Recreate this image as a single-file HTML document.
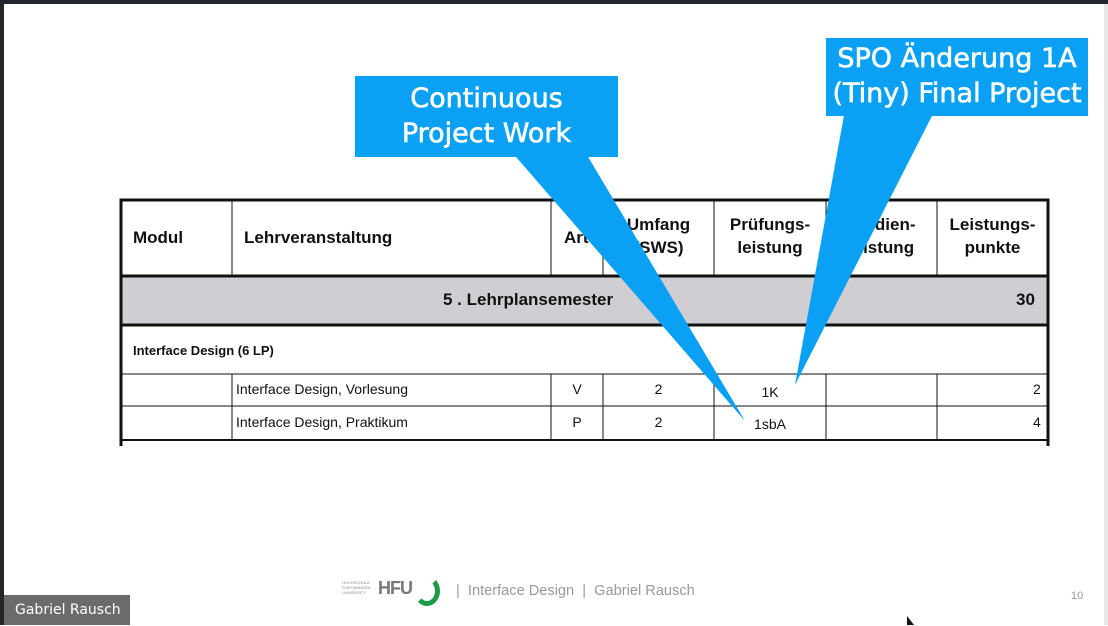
<!DOCTYPE html>
<html><head><meta charset="utf-8"><style>
body{margin:0;width:1108px;height:625px;overflow:hidden;background:#fff;position:relative;font-family:"Liberation Sans",sans-serif}
.t{position:absolute;font-size:14px;color:#111;white-space:nowrap}
.b{font-weight:bold;font-size:17px}
.c{text-align:center}
.co{position:absolute;background:#0aa0f3;color:#fff;font-family:'DejaVu Sans',sans-serif;font-size:27px;line-height:35px;text-align:center;box-sizing:border-box;white-space:nowrap;-webkit-text-stroke:0.6px #fff}
</style></head><body>
<div style="position:absolute;left:0;top:0;width:1108px;height:4px;background:#23272b"></div>
<div style="position:absolute;left:0;top:0;width:4px;height:625px;background:#23272b"></div>
<div style="position:absolute;left:1104px;top:4px;width:4px;height:621px;background:#e8e8e8"></div>

<svg style="position:absolute;left:0;top:0" width="1108" height="625">
<rect x="120" y="276" width="929" height="50" fill="#d0ced3"/>
<g stroke="#111" fill="none">
<path d="M121,446 V200 H1048 V446" stroke-width="3"/>
<line x1="120" y1="276" x2="1049" y2="276" stroke-width="3"/>
<line x1="120" y1="325" x2="1049" y2="325" stroke-width="3"/>
<line x1="120" y1="374" x2="1049" y2="374" stroke-width="1"/>
<line x1="120" y1="406" x2="1049" y2="406" stroke-width="1"/>
<line x1="120" y1="440" x2="1049" y2="440" stroke-width="2"/>
<g stroke-width="1">
<line x1="232" y1="200" x2="232" y2="276"/><line x1="551" y1="200" x2="551" y2="276"/><line x1="603" y1="200" x2="603" y2="276"/><line x1="714" y1="200" x2="714" y2="276"/><line x1="826" y1="200" x2="826" y2="276"/><line x1="937" y1="200" x2="937" y2="276"/>
<line x1="232" y1="374" x2="232" y2="440"/><line x1="551" y1="374" x2="551" y2="440"/><line x1="603" y1="374" x2="603" y2="440"/><line x1="714" y1="374" x2="714" y2="440"/><line x1="826" y1="374" x2="826" y2="440"/><line x1="937" y1="374" x2="937" y2="440"/>
</g></g>
</svg>

<div class="t b" style="left:133px;top:228px">Modul</div>
<div class="t b" style="left:244px;top:228px">Lehrveranstaltung</div>
<div class="t b" style="left:564px;top:228px">Art</div>
<div class="t b c" style="left:603px;width:111px;top:213px;line-height:23px">Umfang<br>(SWS)</div>
<div class="t b c" style="left:714px;width:112px;top:213px;line-height:23px">Prüfungs-<br>leistung</div>
<div class="t b c" style="left:826px;width:111px;top:213px;line-height:23px">Studien-<br>leistung</div>
<div class="t b c" style="left:937px;width:111px;top:213px;line-height:23px">Leistungs-<br>punkte</div>
<div class="t b" style="left:443px;top:290px">5 . Lehrplansemester</div>
<div class="t b" style="left:1016px;top:290px">30</div>
<div class="t" style="left:133px;top:343px;font-weight:bold;font-size:13px">Interface Design (6 LP)</div>
<div class="t" style="left:236px;top:381px">Interface Design, Vorlesung</div>
<div class="t c" style="left:551px;width:52px;top:381px">V</div>
<div class="t c" style="left:603px;width:111px;top:381px">2</div>
<div class="t c" style="left:714px;width:112px;top:384px">1K</div>
<div class="t" style="left:1033px;top:381px">2</div>
<div class="t" style="left:236px;top:414px">Interface Design, Praktikum</div>
<div class="t c" style="left:551px;width:52px;top:414px">P</div>
<div class="t c" style="left:603px;width:111px;top:414px">2</div>
<div class="t c" style="left:714px;width:112px;top:416px">1sbA</div>
<div class="t" style="left:1033px;top:414px">4</div>

<svg style="position:absolute;left:0;top:0" width="1108" height="625">
<polygon points="510,150 584,150 745,421" fill="#0aa0f3"/>
<polygon points="845,110 935,110 795,385" fill="#0aa0f3"/>
</svg>
<div class="co" style="left:355px;top:76px;width:263px;height:81px;padding-top:5px">Continuous<br>Project Work</div>
<div class="co" style="left:826px;top:38px;width:262px;height:78px;padding-top:3px">SPO Änderung 1A<br>(Tiny) Final Project</div>

<div style="position:absolute;left:342px;top:576px;width:98px;height:32px">
<div style="position:absolute;left:0;top:4px;font-size:4px;color:#888;line-height:5px">HOCHSCHULE<br>FURTWANGEN<br>UNIVERSITY</div>
<div style="position:absolute;left:36px;top:2px;font-size:18px;font-weight:bold;color:#777;letter-spacing:-1px">HFU</div>
<div style="position:absolute;left:72px;top:0;width:26px;height:30px;border:5px solid #1f9a48;border-top-color:transparent;border-left-color:transparent;border-radius:50%;box-sizing:border-box"></div>
</div>
<div class="t" style="left:456px;top:583px;color:#999;font-size:14.6px">|&nbsp; Interface Design &nbsp;|&nbsp; Gabriel Rausch</div>
<div class="t" style="left:1071px;top:590px;color:#999;font-size:11px">10</div>
<div style="position:absolute;left:4px;top:595px;width:126px;height:30px;background:#6b6b6b;color:#fff;font-family:'DejaVu Sans',sans-serif;font-size:14px;line-height:30px;padding-left:11px;box-sizing:border-box">Gabriel Rausch</div>
<svg style="position:absolute;left:906px;top:616px" width="10" height="10"><polygon points="1,0 1,9 8,9" fill="#111"/></svg>
</body></html>
